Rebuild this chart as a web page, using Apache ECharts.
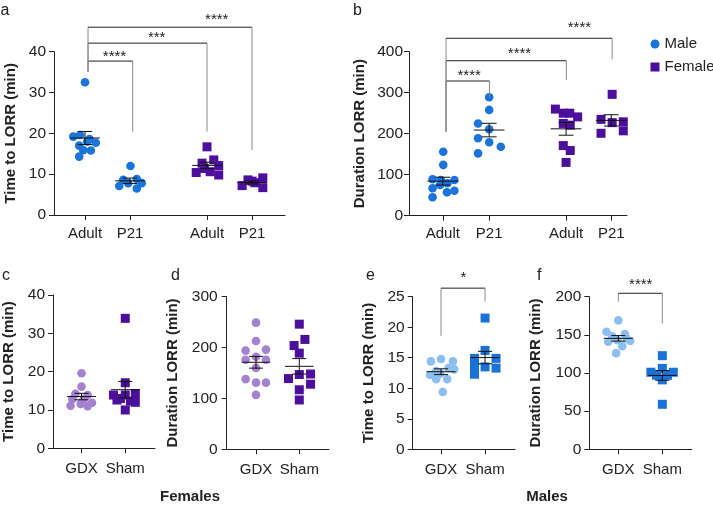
<!DOCTYPE html>
<html>
<head>
<meta charset="utf-8">
<script src="https://cdn.jsdelivr.net/npm/echarts/dist/echarts.min.js"></script>
<style>html,body{margin:0;padding:0;background:#fff}#c{width:713px;height:507px}</style>
</head>
<body>
<div id="c"></div>
<script>
// ---------------- DATA ----------------
// Panel a: Time to LORR (min)
const aMaleAdult = [32.5, 19.2, 19.6, 18.6, 17.7, 17.0, 18.0, 15.9, 15.8, 14.3];
const aMaleAdultJit = [0, -0.26, -0.11, 0.10, 0.24, -0.13, 0.05, -0.04, 0.13, -0.13];
const aMaleP21 = [12.0, 8.6, 8.8, 7.8, 7.8, 7.1, 6.5];
const aMaleP21Jit = [0.01, -0.15, 0.15, -0.04, 0.26, -0.24, 0.15];
const aFemAdult = [16.7, 10.4, 12.7, 13.5, 12.1, 11.4, 10.6, 9.8];
const aFemAdultJit = [0, -0.24, -0.11, 0.15, 0.26, -0.06, 0.07, 0.26];
const aFemP21 = [7.2, 8.6, 7.9, 9.1, 6.7, 8.3];
const aFemP21Jit = [-0.22, -0.09, 0.06, 0.24, 0.24, 0];
// Panel b: Duration LORR (min)
const bMaleAdult = [156, 124, 89, 87, 87, 67, 75, 79, 57, 61, 45];
const bMaleAdultJit = [0.01, 0.01, -0.22, -0.04, 0.25, -0.22, -0.06, 0.10, 0.09, 0.25, -0.22];
const bMaleP21 = [289, 258, 225, 211, 189, 179, 168, 152];
const bMaleP21Jit = [0, 0, -0.24, 0, -0.24, 0, 0.25, -0.24];
const bFemAdult = [260, 250, 250, 241, 225, 221, 171, 159, 130];
const bFemAdultJit = [-0.23, -0.06, 0.08, 0.25, -0.06, 0.09, -0.06, 0.09, 0];
const bFemP21 = [296, 235, 227, 229, 201, 207];
const bFemP21Jit = [0.02, -0.22, 0.02, 0.26, -0.22, 0.26];
// Panel c: Females, Time to LORR
const cGdx = [19.6, 16.1, 14.2, 13.9, 12.8, 12.8, 11.9, 11.1, 11.6, 11.0];
const cGdxJit = [0, 0, -0.14, 0.14, -0.21, 0.05, 0.24, -0.25, -0.02, 0.14];
const cSham = [33.9, 17.1, 13.9, 13.9, 14.3, 12.6, 12.0, 10.0, 13.0, 12.3];
const cShamJit = [0, 0, -0.27, 0, 0.23, -0.19, 0.23, 0, -0.11, 0.12];
// Panel d: Females, Duration LORR
const dGdx = [249, 213, 194, 196, 182, 176, 176, 160, 138, 131, 131, 107];
const dGdxJit = [0, 0, -0.24, 0.23, 0, -0.24, 0.23, 0, -0.24, 0, 0.23, 0];
const dSham = [246, 216, 204, 189, 139, 147, 148, 128, 117, 97];
const dShamJit = [0, 0.13, -0.12, 0, -0.25, 0, 0.26, 0.26, 0, 0];
// Panel e: Males, Time to LORR
const eGdx = [14.8, 14.4, 14.4, 13.1, 12.2, 12.8, 13.3, 11.5, 11.5, 9.4, 12.4];
const eGdxJit = [0, -0.23, 0.27, 0.30, -0.25, -0.11, 0.17, -0.11, 0.14, 0.04, -0.02];
const eSham = [21.5, 16.2, 14.9, 14.9, 13.6, 13.5, 13.3, 12.3];
const eShamJit = [0, 0, -0.24, 0.25, -0.24, 0, 0.25, -0.24];
// Panel f: Males, Duration LORR
const fGdx = [169, 154, 151, 148, 141, 143, 142, 135, 126, 145];
const fGdxJit = [0, -0.27, 0.15, -0.14, -0.23, -0.02, 0.27, 0.09, -0.05, 0.19];
const fSham = [122.7, 106, 101, 101, 97, 97, 91, 59];
const fShamJit = [0, 0, -0.26, 0.25, -0.13, 0.12, 0, 0];

// category labels and positions
const abLabels = ['Adult', 'P21', 'Adult', 'P21'];
const aXPos = [1, 2, 3.711, 4.711];
const bXPos = [1, 2, 3.657, 4.63];
const gsLabels = ['GDX', 'Sham'];
const gsXPos = [1, 2];

// significance brackets: [x1, x2, yTop, yLeftBottom, yRightBottom, starX, starY]
const aBrackets = [[1.067, 2.06, 37.7, 35.1, 20.4, 1.656, 39.6],
                   [1.067, 3.711, 42.1, 35.1, 20.4, 2.593, 44.3],
                   [1.067, 4.711, 46.0, 35.1, 15.9, 3.927, 48.6]];
const aStars = ['****', '***', '****'];
const bBrackets = [[1.071, 2.006, 328.5, 205, 290, 1.568, 350],
                   [1.071, 3.663, 378, 205, 331, 2.654, 404],
                   [1.071, 4.65, 432.7, 205, 381.5, 3.944, 465]];
const bStars = ['****', '****', '****'];
const eBrackets = [[1.0, 2.0, 26.4, 18.6, 24.2, 1.507, 28.6]];
const eStars = ['*'];
const fBrackets = [[1.0, 2.0, 204.5, 193.5, 165, 1.509, 219.6]];
const fStars = ['****'];

// ---------------- STYLE ----------------
const FONT = '"Liberation Sans", Arial, Helvetica, sans-serif';
const MALE = '#1b74da', FEMALE = '#4c0f9b', LAV = '#a482d0', LBLUE = '#8cbef0', SBLUE = '#1a72d8';
const INK = '#222';

const panels = [
  {grid:{left:54, top:51.7, width:231, height:163.3}, xMin:0.311, xMax:5.444, xPos:aXPos, xLabels:abLabels,
   yMax:40, yInt:10, yName:'Time to LORR (min)', nameGap:36, yLabMargin:8, xLabMargin:11,
   groups:[[aMaleAdult,aMaleAdultJit,MALE,'circle','Male'],[aMaleP21,aMaleP21Jit,MALE,'circle','Male'],
           [aFemAdult,aFemAdultJit,FEMALE,'rect','Female'],[aFemP21,aFemP21Jit,FEMALE,'rect','Female']],
   brackets:aBrackets, stars:aStars},
  {grid:{left:409, top:51.7, width:218, height:164}, xMin:0.272, xMax:4.97, xPos:bXPos, xLabels:abLabels,
   yMax:400, yInt:100, yName:'Duration LORR (min)', nameGap:42, yLabMargin:6, xLabMargin:11,
   groups:[[bMaleAdult,bMaleAdultJit,MALE,'circle','Male'],[bMaleP21,bMaleP21Jit,MALE,'circle','Male'],
           [bFemAdult,bFemAdultJit,FEMALE,'rect','Female'],[bFemP21,bFemP21Jit,FEMALE,'rect','Female']],
   brackets:bBrackets, stars:bStars},
  {grid:{left:52.3, top:295, width:102.7, height:153.3}, xMin:0.348, xMax:2.68, xPos:gsXPos, xLabels:gsLabels,
   yMax:40, yInt:10, yName:'Time to LORR (min)', nameGap:37, yLabMargin:8, xLabMargin:13,
   groups:[[cGdx,cGdxJit,LAV,'circle','GDX F'],[cSham,cShamJit,FEMALE,'rect','Sham F']]},
  {grid:{left:226.7, top:296.7, width:102.3, height:152.6}, xMin:0.323, xMax:2.686, xPos:gsXPos, xLabels:gsLabels,
   yMax:300, yInt:100, yName:'Duration LORR (min)', nameGap:46, yLabMargin:9, xLabMargin:13,
   groups:[[dGdx,dGdxJit,LAV,'circle','GDX F'],[dSham,dShamJit,FEMALE,'rect','Sham F']]},
  {grid:{left:412.7, top:296.7, width:102.3, height:152.6}, xMin:0.357, xMax:2.68, xPos:gsXPos, xLabels:gsLabels,
   yMax:25, yInt:5, yName:'Time to LORR (min)', nameGap:36, yLabMargin:8, xLabMargin:13,
   groups:[[eGdx,eGdxJit,LBLUE,'circle','GDX M'],[eSham,eShamJit,SBLUE,'rect','Sham M']],
   brackets:eBrackets, stars:eStars},
  {grid:{left:589.3, top:296.7, width:102.4, height:152.6}, xMin:0.34, xMax:2.668, xPos:gsXPos, xLabels:gsLabels,
   yMax:200, yInt:50, yName:'Duration LORR (min)', nameGap:46, yLabMargin:8, xLabMargin:13,
   groups:[[fGdx,fGdxJit,LBLUE,'circle','GDX M'],[fSham,fShamJit,SBLUE,'rect','Sham M']],
   brackets:fBrackets, stars:fStars}
];

function meanSem(a) {
  const n = a.length, m = a.reduce((s, v) => s + v, 0) / n;
  const sd = Math.sqrt(a.reduce((s, v) => s + (v - m) * (v - m), 0) / (n - 1));
  return [m, sd / Math.sqrt(n)];
}
function ln(x1, y1, x2, y2, color) {
  return {type:'line', shape:{x1, y1, x2, y2}, style:{stroke:color, lineWidth:1}};
}
function errRender(params, api) {
  const x = api.value(0), m = api.value(1), s = api.value(2);
  const c = api.coord([x, m]), t = api.coord([x, m + s]), b = api.coord([x, m - s]);
  const u = api.size([1, 0])[0];
  const hw = u * 0.33, cw = u * 0.16;
  return {type:'group', children:[
    ln(c[0] - hw, c[1], c[0] + hw, c[1], '#111'),
    ln(t[0], t[1], b[0], b[1], '#111'),
    ln(t[0] - cw, t[1], t[0] + cw, t[1], '#111'),
    ln(b[0] - cw, b[1], b[0] + cw, b[1], '#111')
  ]};
}
function bracketRender(stars) {
  return function (params, api) {
    const x1 = api.value(0), x2 = api.value(1), yt = api.value(2), yl = api.value(3), yr = api.value(4);
    const p1 = api.coord([x1, yl]), p2 = api.coord([x1, yt]), p3 = api.coord([x2, yt]), p4 = api.coord([x2, yr]);
    const s = api.coord([api.value(5), api.value(6)]);
    return {type:'group', children:[
      ln(p1[0], p1[1], p2[0], p2[1], '#8a8a8a'),
      ln(p2[0], p2[1], p3[0], p3[1], '#222'),
      ln(p3[0], p3[1], p4[0], p4[1], '#8a8a8a'),
      {type:'text', style:{text:stars[params.dataIndex], x:s[0], y:s[1] + 3.3, align:'center', verticalAlign:'middle',
        fontSize:15, fontFamily:FONT, fill:INK}}
    ]};
  };
}

const grid = [], xAxis = [], yAxis = [], series = [];
panels.forEach((p, i) => {
  grid.push(Object.assign({containLabel:false}, p.grid));
  xAxis.push({type:'value', gridIndex:i, min:p.xMin, max:p.xMax,
    axisLine:{show:true, onZero:false, lineStyle:{color:INK, width:1}},
    axisTick:{show:true, inside:false, length:5, customValues:p.xPos, lineStyle:{color:INK}},
    axisLabel:{show:true, customValues:p.xPos, margin:p.xLabMargin, fontSize:15, fontFamily:FONT, color:INK,
      formatter:(v) => { let k = 0; p.xPos.forEach((q, j) => { if (Math.abs(q - v) < Math.abs(p.xPos[k] - v)) k = j; }); return p.xLabels[k]; }},
    splitLine:{show:false}});
  yAxis.push({type:'value', gridIndex:i, min:0, max:p.yMax, interval:p.yInt,
    name:p.yName, nameLocation:'middle', nameGap:p.nameGap, nameRotate:90,
    nameTextStyle:{fontSize:15, fontWeight:'bold', fontFamily:FONT, color:INK},
    axisLine:{show:true, lineStyle:{color:INK, width:1}},
    axisTick:{show:true, inside:false, length:5, lineStyle:{color:INK}},
    axisLabel:{margin:p.yLabMargin, fontSize:15.5, fontFamily:FONT, color:INK},
    splitLine:{show:false}});
  const errData = [];
  p.groups.forEach((g, gi) => {
    const [vals, jit, color, sym, name] = g;
    series.push({type:'scatter', name, xAxisIndex:i, yAxisIndex:i, symbol:sym, symbolSize: sym === 'rect' ? 9 : 8.6,
      itemStyle:{color, opacity:1}, z:2, silent:true,
      data: vals.map((v, k) => [p.xPos[gi] + jit[k], v])});
    const ms = meanSem(vals);
    errData.push([p.xPos[gi], ms[0], ms[1]]);
  });
  series.push({type:'custom', xAxisIndex:i, yAxisIndex:i, renderItem:errRender, data:errData, z:5, silent:true, clip:false});
  if (p.brackets) {
    series.push({type:'custom', xAxisIndex:i, yAxisIndex:i, renderItem:bracketRender(p.stars), data:p.brackets, z:4, silent:true, clip:false});
  }
});

const letters = [['a', 0.5, 9.7], ['b', 353, 9.7], ['c', 2, 274.7], ['d', 171, 274.7], ['e', 366, 274.7], ['f', 537, 274.7]];
const graphic = letters.map(l => ({type:'text', left:l[1], top:l[2] - 7, style:{text:l[0], fontSize:16, fontFamily:FONT, fill:INK}}));
graphic.push({type:'text', x:190, y:497, style:{text:'Females', x:0, y:0, align:'center', verticalAlign:'middle', fontSize:15, fontWeight:'bold', fontFamily:FONT, fill:INK}});
graphic.push({type:'text', x:547, y:497, style:{text:'Males', x:0, y:0, align:'center', verticalAlign:'middle', fontSize:15, fontWeight:'bold', fontFamily:FONT, fill:INK}});

const chart = echarts.init(document.getElementById('c'), null, {renderer:'canvas'});
chart.setOption({
  animation:false,
  backgroundColor:'#fff',
  textStyle:{fontFamily:FONT},
  grid, xAxis, yAxis, series, graphic,
  legend:{data:[{name:'Male', icon:'circle'}, {name:'Female', icon:'rect'}], orient:'vertical', left:645.5, top:31,
    itemWidth:9, itemHeight:9, itemGap:7, selectedMode:false,
    textStyle:{fontSize:15, fontFamily:FONT, color:INK, lineHeight:16}}
});
</script>
</body>
</html>
